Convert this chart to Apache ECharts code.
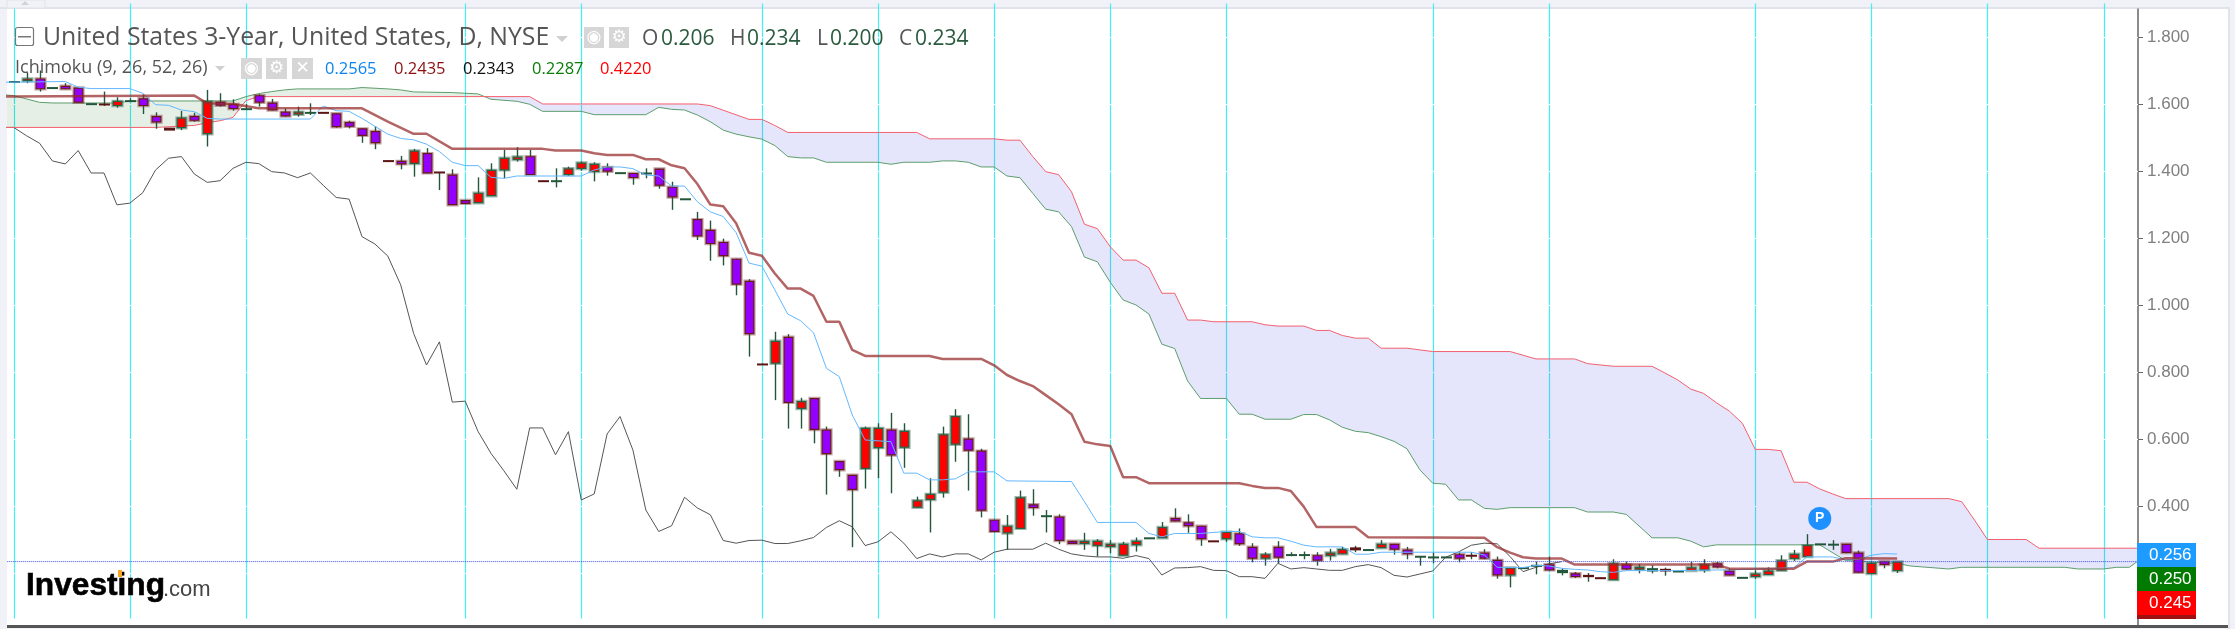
<!DOCTYPE html>
<html>
<head>
<meta charset="utf-8">
<style>
html,body{margin:0;padding:0;background:#f0f2f7;}
#chart{width:2235px;height:629px;}
</style>
<script src="https://cdn.jsdelivr.net/npm/echarts@6/dist/echarts.min.js"></script>
</head>
<body>
<div id="chart"></div>
<script>
// one value per daily bar
var opens = [1.666,1.668,1.676,1.648,1.654,1.649,1.600,1.600,1.594,1.609,1.617,1.564,1.528,1.528,1.564,1.510,1.606,1.600,1.585,1.626,
	1.604,1.577,1.568,1.574,1.575,1.572,1.546,1.527,1.519,1.431,1.430,1.421,1.453,1.397,1.389,1.313,1.304,1.325,1.402,1.433,
	1.444,1.371,1.370,1.388,1.406,1.397,1.412,1.394,1.394,1.393,1.407,1.353,1.316,1.256,1.224,1.188,1.138,1.072,.824,.825,
	.905,.690,.722,.628,.534,.493,.511,.573,.628,.574,.395,.418,.440,.583,.601,.565,.359,.318,.332,.405,
	.370,.368,.296,.287,.281,.278,.252,.283,.304,.304,.364,.351,.341,.296,.301,.318,.278,.243,.278,.254,
	.254,.253,.251,.256,.275,.269,.274,.287,.270,.249,.247,.247,.256,.253,.261,.239,.193,.215,.222,.226,
	.201,.199,.193,.186,.179,.226,.210,.206,.211,.205,.206,.208,.229,.207,.186,.188,.194,.207,.242,.248,
	.286,.285,.287,.261,.197,.235,.206];
var highs = [1.667,1.694,1.700,1.649,1.662,1.649,1.601,1.637,1.620,1.617,1.629,1.575,1.528,1.579,1.574,1.642,1.632,1.614,1.600,1.629,
	1.615,1.587,1.592,1.602,1.576,1.572,1.550,1.527,1.534,1.432,1.445,1.466,1.468,1.397,1.405,1.313,1.381,1.423,1.463,1.471,
	1.463,1.371,1.408,1.413,1.428,1.426,1.423,1.395,1.394,1.408,1.407,1.368,1.317,1.278,1.252,1.198,1.138,1.077,.825,.920,
	.913,.723,.722,.637,.534,.493,.637,.647,.678,.647,.428,.483,.637,.689,.674,.571,.359,.373,.446,.450,
	.388,.375,.296,.320,.301,.298,.293,.306,.305,.352,.393,.375,.341,.296,.323,.333,.289,.262,.295,.262,
	.264,.262,.272,.278,.281,.270,.298,.287,.278,.250,.262,.248,.262,.262,.271,.249,.216,.216,.234,.249,
	.214,.203,.200,.186,.241,.234,.227,.223,.216,.206,.234,.241,.233,.214,.187,.208,.217,.253,.269,.316,
	.287,.298,.287,.267,.234,.235,.234];
var lows = [1.666,1.662,1.637,1.648,1.644,1.604,1.600,1.594,1.589,1.607,1.570,1.526,1.522,1.522,1.547,1.473,1.592,1.580,1.584,1.592,
	1.581,1.562,1.562,1.567,1.573,1.529,1.527,1.484,1.465,1.428,1.405,1.383,1.393,1.343,1.298,1.302,1.304,1.325,1.378,1.428,
	1.388,1.368,1.351,1.385,1.401,1.369,1.386,1.394,1.359,1.378,1.347,1.284,1.316,1.194,1.132,1.118,1.029,.846,.821,.716,
	.631,.631,.587,.434,.487,.277,.452,.483,.438,.514,.395,.321,.425,.532,.446,.366,.323,.269,.332,.371,
	.321,.286,.287,.269,.249,.259,.252,.264,.304,.304,.354,.320,.281,.294,.293,.281,.232,.222,.229,.250,
	.241,.222,.237,.256,.262,.269,.274,.255,.241,.222,.229,.247,.232,.241,.241,.183,.157,.215,.196,.208,
	.193,.185,.174,.184,.179,.209,.199,.199,.192,.205,.206,.201,.214,.193,.186,.183,.194,.207,.236,.248,
	.286,.269,.259,.201,.197,.214,.200];
var closes = [1.667,1.676,1.644,1.649,1.644,1.604,1.601,1.597,1.609,1.610,1.594,1.545,1.522,1.559,1.550,1.608,1.595,1.585,1.586,1.604,
	1.581,1.563,1.577,1.575,1.573,1.531,1.532,1.505,1.483,1.429,1.420,1.461,1.393,1.395,1.298,1.302,1.335,1.403,1.439,1.443,
	1.388,1.369,1.371,1.408,1.425,1.421,1.398,1.395,1.379,1.394,1.356,1.321,1.317,1.205,1.182,1.146,1.061,.913,.822,.893,
	.708,.713,.627,.555,.507,.448,.633,.633,.551,.624,.417,.436,.614,.668,.565,.386,.323,.341,.426,.394,
	.371,.296,.287,.296,.296,.287,.287,.296,.305,.337,.354,.340,.301,.294,.323,.286,.243,.256,.246,.255,
	.255,.237,.261,.271,.269,.270,.287,.270,.256,.250,.248,.248,.243,.251,.243,.193,.216,.216,.223,.208,
	.208,.188,.189,.184,.229,.211,.218,.213,.206,.206,.217,.226,.217,.193,.187,.198,.207,.238,.257,.283,
	.287,.286,.260,.201,.230,.224,.234];

// ichimoku lines: [bar, price] at each corner of the line, bar -1 runs in from the left edge
var tenkan = [[-1,1.665],[0,1.665],[4,1.667],[5,1.650],[6,1.646],[9,1.646],[10,1.632],[11,1.598],[12,1.596],[13,1.582],[14,1.577],[15,1.557],[16,1.555],
	[23,1.555],[24,1.594],[25,1.580],[26,1.578],[27,1.557],[29,1.510],[30,1.497],[31,1.493],[32,1.480],[33,1.458],[34,1.426],[35,1.416],[36,1.416],
	[37,1.381],[38,1.378],[39,1.385],[44,1.385],[45,1.403],[46,1.412],[47,1.412],[48,1.407],[49,1.388],[50,1.385],[51,1.355],[52,1.355],[53,1.308],
	[54,1.278],[55,1.264],[56,1.216],[57,1.125],[58,1.116],[59,1.045],[60,.973],[61,.953],[62,.917],[63,.811],[64,.786],[65,.672],[66,.597],[68,.592],
	[69,.498],[70,.498],[71,.478],[72,.478],[73,.481],[74,.502],[76,.502],[77,.475],[82,.473],[83,.413],[84,.351],[87,.351],[88,.318],[89,.308],[90,.318],
	[92,.318],[94,.324],[95,.324],[96,.308],[97,.305],[98,.305],[99,.295],[100,.283],[101,.278],[103,.278],[104,.256],[105,.256],[106,.262],[113,.262],
	[114,.254],[115,.217],[117,.216],[118,.223],[119,.221],[120,.214],[121,.211],[122,.209],[123,.204],[124,.202],[125,.207],[129,.207],[132,.209],[133,.209],
	[138,.216],[139,.248],[141,.248],[142,.239],[143,.241],[144,.253],[145,.258],[146,.2565]];
var kijun = [[-1,1.622],[0,1.622],[14,1.625],[15,1.602],[17,1.600],[19,1.587],[27,1.587],[29,1.547],[31,1.511],[32,1.511],[34,1.466],[41,1.466],[42,1.461],[44,1.461],
	[45,1.453],[46,1.448],[48,1.448],[49,1.435],[50,1.435],[51,1.417],[52,1.408],[53,1.361],[54,1.300],[55,1.295],[56,1.244],[57,1.156],[58,1.147],[59,1.094],
	[60,1.049],[61,1.049],[62,1.027],[63,.950],[64,.950],[65,.866],[66,.848],[71,.848],[72,.839],[75,.839],[76,.820],[77,.791],[78,.773],[79,.758],[80,.731],
	[81,.704],[82,.674],[83,.592],[84,.584],[85,.579],[86,.486],[87,.486],[88,.468],[95,.468],[96,.460],[97,.454],[98,.454],[99,.445],[100,.398],[101,.337],
	[104,.337],[105,.307],[114,.305],[115,.277],[116,.261],[117,.247],[118,.243],[120,.243],[121,.225],[132,.225],[133,.213],[138,.213],[139,.234],[141,.234],
	[142,.244],[146,.2435]];
// first entry is bar -1
var chikou = [1.530,1.530,1.505,1.483,1.430,1.421,1.461,1.394,1.394,1.299,1.304,1.335,1.403,1.438,1.443,1.391,1.366,1.371,1.408,1.426,1.422,
	1.398,1.394,1.380,1.394,1.357,1.321,1.316,1.204,1.182,1.146,1.060,.915,.821,.890,.710,.713,.622,.557,.505,.450,
	.633,.633,.553,.622,.418,.436,.615,.667,.567,.388,.324,.341,.426,.394,.374,.297,.289,.297,.298,.288,
	.288,.296,.306,.336,.356,.338,.282,.293,.323,.289,.243,.257,.248,.257,.257,.239,.262,.271,.271,.271,
	.289,.271,.257,.251,.248,.248,.244,.252,.243,.194,.215,.216,.219,.208,.207,.189,.189,.184,.229,.212,
	.216,.212,.208,.208,.219,.225,.216,.193,.188,.197,.206,.247,.263,.283,.289,.287,.249,.204,.217,.227,.234];
var spanA = [[-1,1.628],[0,1.625],[2,1.605],[3,1.603],[8,1.603],[9,1.609],[17,1.609],[18,1.622],[19,1.631],[20,1.637],[21,1.642],[22,1.645],[26,1.645],[27,1.649],[29,1.645],
	[30,1.642],[31,1.636],[34,1.634],[36,1.630],[37,1.614],[39,1.608],[40,1.599],[41,1.578],[44,1.578],[45,1.568],[49,1.568],[50,1.590],[51,1.584],[52,1.582],
	[53,1.567],[54,1.547],[55,1.522],[56,1.510],[57,1.502],[58,1.495],[59,1.476],[60,1.443],[61,1.439],[62,1.439],[63,1.426],[67,1.426],[68,1.420],[69,1.426],
	[71,1.426],[72,1.430],[73,1.430],[74,1.426],[75,1.412],[76,1.412],[77,1.385],[78,1.380],[79,1.333],[80,1.286],[81,1.278],[82,1.234],[83,1.143],[84,1.129],
	[85,1.068],[86,1.015],[87,1.000],[88,.973],[89,.883],[90,.870],[91,.773],[92,.721],[94,.721],[95,.674],[96,.674],[97,.659],[99,.659],[100,.673],[101,.673],
	[102,.657],[103,.635],[104,.623],[105,.619],[106,.607],[107,.593],[108,.571],[109,.508],[110,.468],[111,.465],[112,.418],[113,.418],[114,.393],[115,.390],
	[116,.395],[121,.395],[122,.382],[124,.382],[125,.375],[127,.305],[129,.305],[130,.295],[131,.278],[132,.284],[140,.284],[142,.237],[143,.235],[146,.2287],
	[147,.221],[150,.212],[151,.217],[159,.217],[160,.212],[162,.212],[163,.217],[164,.217],[165,.245]];
var spanB = [[-1,1.530],[11,1.530],[14,1.536],[15,1.544],[16,1.550],[17,1.560],[18,1.610],[19,1.622],[40,1.622],[41,1.600],[53,1.600],[54,1.595],[57,1.554],[58,1.554],
	[59,1.536],[60,1.515],[70,1.515],[71,1.496],[76,1.496],[77,1.492],[78,1.492],[79,1.443],[80,1.398],[81,1.389],[82,1.338],[83,1.241],[84,1.228],[85,1.174],
	[86,1.134],[87,1.134],[88,1.111],[89,1.035],[90,1.035],[91,.955],[92,.955],[93,.950],[96,.950],[97,.941],[98,.937],[100,.937],[101,.924],[102,.924],[103,.909],
	[104,.901],[105,.901],[106,.871],[108,.871],[110,.861],[116,.861],[118,.839],[121,.839],[122,.825],[124,.817],[127,.817],[128,.797],[129,.776],[130,.749],
	[131,.736],[132,.708],[133,.683],[134,.647],[135,.569],[136,.569],[137,.565],[138,.471],[139,.471],[140,.451],[141,.436],[142,.422],[150,.422],[151,.413],
	[152,.358],[153,.300],[156,.300],[157,.274],[165,.274]];
var cloudCross = [36.5, 1.622];

var gridBars = [0,9,18,35,44,58,67,76,85,94,110,119,135,144,153,162];
var gridPrices = [0.2,0.4,0.6,0.8,1.0,1.2,1.4,1.6,1.8];
var priceLabels = [0.4,0.6,0.8,1.0,1.2,1.4,1.6,1.8];
var lastClose = 0.234;
var pivotMark = [140, 0.363];

var myChart = echarts.init(document.getElementById('chart'));

var candleData = [];
for (var i = 0; i < opens.length; i++) {
	candleData.push([i, opens[i], highs[i], lows[i], closes[i]]);
}

function renderCandle(params, api) {
	var x = api.value(0), o = api.value(1), h = api.value(2), l = api.value(3), c = api.value(4);
	var up = c >= o;
	var top = api.coord([x, Math.max(o, c)]), bot = api.coord([x, Math.min(o, c)]);
	var hi = api.coord([x, h]), lo = api.coord([x, l]);
	var cx = Math.round(top[0]) + 0.5;
	var edge = up ? '#2a6043' : '#6a1a1e';
	var body = up ? '#ff0000' : '#9400ff';
	var halo = up ? 'rgba(42,96,67,0.45)' : 'rgba(120,50,50,0.45)';
	var thin = bot[1] - top[1] < 2.5;
	var kids = [{
		type: 'line',
		shape: {x1: cx, y1: hi[1], x2: cx, y2: lo[1]},
		style: {stroke: '#23573c', lineWidth: 1.4}
	}];
	if (thin) {
		// bodies this small read as a flat dash
		kids.push({
			type: 'rect',
			shape: {x: cx - 5.5, y: top[1] - 0.5, width: 11, height: Math.max(2, bot[1] - top[1] + 1)},
			style: {fill: up ? '#23573c' : '#5c1414'}
		});
	} else {
		kids.push({
			type: 'rect',
			shape: {x: cx - 4.8, y: top[1], width: 9.6, height: bot[1] - top[1]},
			style: {fill: 'none', stroke: halo, lineWidth: 2.6}
		});
		kids.push({
			type: 'rect',
			shape: {x: cx - 4.3, y: top[1] + 0.5, width: 8.6, height: bot[1] - top[1] - 1},
			style: {fill: body, stroke: edge, lineWidth: 1.2}
		});
	}
	return {type: 'group', children: kids};
}

function renderVLine(params, api) {
	var a = api.coord([api.value(0), 1.9]);
	var b = api.coord([api.value(0), 0.0645]);
	var x = Math.round(a[0]) + 0.5;
	return {type: 'line', shape: {x1: x, y1: a[1], x2: x, y2: b[1]}, style: {stroke: '#3ff0f5', lineWidth: 1.2}};
}

function renderHLine(params, api) {
	var y = Math.round(api.coord([0, api.value(0)])[1]) + 0.5;
	return {type: 'line', shape: {x1: params.coordSys.x, y1: y, x2: params.coordSys.x + params.coordSys.width, y2: y}, style: {stroke: '#ffffff', lineWidth: 1}};
}

// the cloud, green while span A is on top and lavender after they cross
var cloudGreen = spanA.filter(function (p) { return p[0] <= 36; })
	.concat([cloudCross])
	.concat(spanB.filter(function (p) { return p[0] <= 36; }).reverse());
var cloudBlue = [cloudCross].concat(spanA.filter(function (p) { return p[0] >= 37; }))
	.concat(spanB.filter(function (p) { return p[0] >= 37; }).reverse());

function renderCloud(params, api) {
	var pts = params.dataIndex === 0 ? cloudGreen : cloudBlue;
	return {
		type: 'polygon',
		shape: {points: pts.map(function (p) { return api.coord(p); })},
		style: {fill: params.dataIndex === 0 ? 'rgba(0,100,0,0.1)' : 'rgba(102,102,238,0.17)'}
	};
}

function lineSeries(name, data, color, width, z) {
	return {
		name: name, type: 'line', data: data, showSymbol: false, animation: false, silent: true, z: z,
		lineStyle: {color: color, width: width}
	};
}

var chikouLine = chikou.map(function (v, k) { return [k - 1, v]; });

function sideBox(y, h, color, label) {
	var out = [{type: 'rect', shape: {x: 2137, y: y, width: 59, height: h}, style: {fill: color}, z: 100}];
	if (label) {
		out.push({type: 'text', x: 2149, y: y + h / 2, z: 101, style: {text: label, fill: '#fff', font: '17px "Liberation Sans"', verticalAlign: 'middle'}});
	}
	return out;
}

function headText(x, y, text, color, font) {
	return {type: 'text', x: x, y: y, z: 100, style: {text: text, fill: color, font: font, verticalAlign: 'middle'}};
}

function iconBox(x, y, w, h, glyph) {
	return [
		{type: 'rect', shape: {x: x, y: y, width: w, height: h}, style: {fill: '#d6d6d6'}, z: 100},
		{type: 'text', x: x + w / 2, y: y + h / 2, z: 101, style: {text: glyph, fill: '#fff', font: 'bold 17px "DejaVu Sans"', align: 'center', verticalAlign: 'middle'}}
	];
}

var titleFont = '24.8px "Open Sans"';
var ohlcFont = '21px "Open Sans"';
var subFont = '18px "Open Sans"';
var valueFont = '16.5px "Open Sans"';
var graphicEls = [
	// page frame
	{type: 'rect', shape: {x: 7, y: 9, width: 2221, height: 617}, style: {fill: '#ffffff'}, z: -2},
	{type: 'rect', shape: {x: 0, y: 7, width: 2230, height: 2}, style: {fill: '#e0e3ea'}, z: -1},
	{type: 'rect', shape: {x: 2228, y: 7, width: 2, height: 622}, style: {fill: '#e0e3ea'}, z: -1},
	{type: 'rect', shape: {x: 7, y: 625, width: 2221, height: 3}, style: {fill: '#555555'}, z: 100},
	{type: 'rect', shape: {x: 7, y: 0, width: 38, height: 8}, style: {fill: '#f0f2f7', stroke: '#e0e3ea'}, z: 100},
	{type: 'polygon', shape: {points: [[21, 5], [29, 5], [25, 1]]}, style: {fill: '#cfd2d8'}, z: 101},
	// first row
	{type: 'rect', shape: {x: 15.5, y: 27.5, width: 18, height: 18, r: 2}, style: {fill: '#fff', stroke: '#777', lineWidth: 1.2}, z: 100},
	{type: 'rect', shape: {x: 18, y: 36, width: 13, height: 1.5}, style: {fill: '#777'}, z: 101},
	headText(43, 38, 'United States 3-Year, United States, D, NYSE', '#555555', titleFont),
	{type: 'polygon', shape: {points: [[556, 36], [568, 36], [562, 42]]}, style: {fill: '#d0d0d0'}, z: 100},
	headText(642, 39, 'O', '#555555', ohlcFont), headText(661, 39, '0.206', '#2a5a3e', ohlcFont),
	headText(730, 39, 'H', '#555555', ohlcFont), headText(747, 39, '0.234', '#2a5a3e', ohlcFont),
	headText(817, 39, 'L', '#555555', ohlcFont), headText(830, 39, '0.200', '#2a5a3e', ohlcFont),
	headText(899, 39, 'C', '#555555', ohlcFont), headText(915, 39, '0.234', '#2a5a3e', ohlcFont),
	// second row
	headText(15, 68, 'Ichimoku (9, 26, 52, 26)', '#555555', subFont),
	{type: 'polygon', shape: {points: [[215, 66], [225, 66], [220, 71]]}, style: {fill: '#d0d0d0'}, z: 100},
	headText(325, 69, '0.2565', '#0a84f0', valueFont),
	headText(394, 69, '0.2435', '#8b1010', valueFont),
	headText(463, 69, '0.2343', '#111111', valueFont),
	headText(532, 69, '0.2287', '#0a7d0a', valueFont),
	headText(600, 69, '0.4220', '#ff0000', valueFont),
	// logo
	{type: 'text', x: 26, y: 586, scaleX: 0.99, z: 100, style: {text: 'Investing', fill: '#000', font: 'bold 32px "Liberation Sans"', stroke: '#000', lineWidth: 0.6, verticalAlign: 'middle', letterSpacing: -1.5}},
	{type: 'text', x: 163, y: 590, z: 100, style: {text: '.com', fill: '#444', font: '22px "Liberation Sans"', verticalAlign: 'middle', letterSpacing: -1}},
	{type: 'rect', shape: {x: 118, y: 570, width: 4, height: 7}, style: {fill: '#f5a623'}, z: 101}
];
graphicEls = graphicEls
	.concat(iconBox(584, 27, 20, 21, '◉'), iconBox(609, 27, 20, 21, '⚙'))
	.concat(iconBox(241, 58, 21, 21, '◉'), iconBox(266, 58, 21, 21, '⚙'), iconBox(292, 58, 21, 21, '✕'))
	.concat(sideBox(543, 24, '#1e9bff', '0.256'), sideBox(567, 24, '#007a00', '0.250'), sideBox(591, 24, '#ff0000', '0.245'), sideBox(615, 4, '#a01010', ''));

var option = {
	backgroundColor: 'transparent',
	animation: false,
	graphic: {elements: graphicEls},
	grid: {left: 7.25, right: 97, top: 9, bottom: 2.5, containLabel: false},
	xAxis: {
		type: 'value', min: -0.5, max: 164.67,
		axisLine: {show: false}, axisTick: {show: false}, axisLabel: {show: false}, splitLine: {show: false}
	},
	yAxis: {
		type: 'value', position: 'right', min: 0.0403, max: 1.8835,
		axisLine: {show: true, onZero: false, lineStyle: {color: '#666666', width: 1.5}},
		axisTick: {show: true, length: 5, inside: false, customValues: priceLabels, lineStyle: {color: '#666666'}},
		axisLabel: {
			show: true, margin: 9, color: '#808080', fontFamily: 'Liberation Sans', fontSize: 17, padding: [6, 0, 0, 0],
			customValues: priceLabels,
			formatter: function (v) { return v.toFixed(3); }
		},
		splitLine: {show: false}
	},
	series: [
		{type: 'custom', data: gridBars.map(function (b) { return [b]; }), renderItem: renderVLine, encode: {x: 0}, silent: true, z: 1, animation: false},
		{type: 'custom', data: gridPrices.map(function (p) { return [p]; }), renderItem: renderHLine, encode: {y: 0}, silent: true, z: 1.5, animation: false},
		{type: 'custom', data: [[0], [1]], renderItem: renderCloud, silent: true, z: 2, clip: true, animation: false},
		lineSeries('Chikou', chikouLine, '#555555', 1, 3),
		lineSeries('Span A', spanA, '#5c9e6c', 1, 3),
		lineSeries('Span B', spanB, '#f2606e', 1, 3),
		{
			type: 'custom', data: candleData, renderItem: renderCandle, encode: {x: 0, y: [1, 2, 3, 4]}, silent: true, z: 4, animation: false,
			markPoint: {
				silent: true, symbol: 'circle', symbolSize: 23,
				itemStyle: {color: '#1e90ff'},
				label: {color: '#fff', fontWeight: 'bold', fontSize: 14, fontFamily: 'Liberation Sans', formatter: 'P'},
				data: [{coord: pivotMark}]
			}
		},
		lineSeries('Tenkan', tenkan, '#63b8ff', 1, 5),
		lineSeries('Kijun', kijun, 'rgba(150,40,40,0.72)', 2.5, 5),
		{
			name: 'Last', type: 'line', data: [[-0.5, lastClose], [164.67, lastClose]], showSymbol: false, silent: true, z: 6, animation: false,
			lineStyle: {color: '#3a50d8', width: 1, type: [1, 1]}
		}
	]
};
myChart.setOption(option);
</script>
</body>
</html>
